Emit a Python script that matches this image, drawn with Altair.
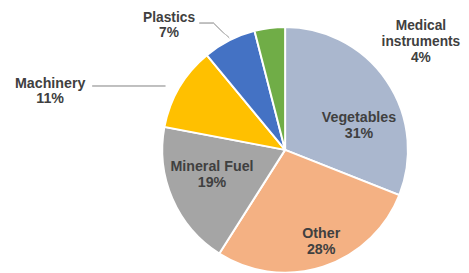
import math
import altair as alt
import pandas as pd

categories = ["Vegetables", "Other", "Mineral Fuel", "Machinery", "Plastics", "Medical instruments"]
values = [31, 28, 19, 11, 7, 4]
display_labels = ["Vegetables", "Other", "Mineral Fuel", "Machinery", "Plastics", "Medical\ninstruments"]
colors = ["#AAB7CE", "#F4B183", "#A5A5A5", "#FFC000", "#4472C4", "#70AD47"]

df = pd.DataFrame({
    "category": categories,
    "value": values,
    "name": display_labels,
    "order": list(range(len(categories))),
})

CX, CY = 282, 142
theta_scale = alt.Scale(domain=[0, 100], range=[0, 2 * math.pi])

base = (
    alt.Chart(df)
    .transform_window(cum="sum(value)", sort=[alt.SortField("order")], frame=[None, 0])
    .transform_calculate(
        start="datum.cum - datum.value",
        mid="datum.cum - datum.value / 2",
        label="datum.name + '\\n' + datum.value + '%'",
    )
)

pie = base.mark_arc(radius=125, stroke="white", strokeWidth=2).encode(
    theta=alt.Theta("start:Q", scale=theta_scale),
    theta2="cum:Q",
    color=alt.Color("category:N", scale=alt.Scale(domain=categories, range=colors), legend=None),
    x=alt.value(CX),
    y=alt.value(CY),
)

text_style = dict(
    font="Liberation Sans",
    fontWeight="bold",
    color="#404040",
    lineBreak="\n",
    lineHeight=16,
    align="center",
    baseline="middle",
)

label_specs = [
    ("Vegetables", 80, 9, 13, 14.5),
    ("Other", 80, 12, 10, 14.5),
    ("Mineral Fuel", 80, -1, -14, 14.5),
    ("Machinery", 150, -110, 9, 14.5),
    ("Plastics", 150, -50, -1, 14),
    ("Medical instruments", 150, 157, 23, 14),
]

layers = [pie]
for cat, r, ddx, ddy, fs in label_specs:
    layers.append(
        base.transform_filter(alt.datum.category == cat)
        .mark_text(radius=r, dx=ddx, dy=ddy, fontSize=fs, **text_style)
        .encode(
            theta=alt.Theta("mid:Q", scale=theta_scale),
            text="label:N",
            x=alt.value(CX),
            y=alt.value(CY),
        )
    )

leader_color = "#BFBFBF"
leaders = [
    (86, 77, 160, 77),
    (195, 13, 209, 13),
    (209, 13, 225, 28),
]
for x1, y1, x2, y2 in leaders:
    layers.append(
        alt.Chart(df).mark_rule(color=leader_color, strokeWidth=1).encode(
            x=alt.value(x1), y=alt.value(y1), x2=alt.value(x2), y2=alt.value(y2)
        )
    )

chart = (
    alt.layer(*layers)
    .properties(width=453, height=257, padding=0, background="white")
    .configure_view(stroke=None)
)

chart.save("out.html", embed_options={"renderer": "svg", "actions": False})
